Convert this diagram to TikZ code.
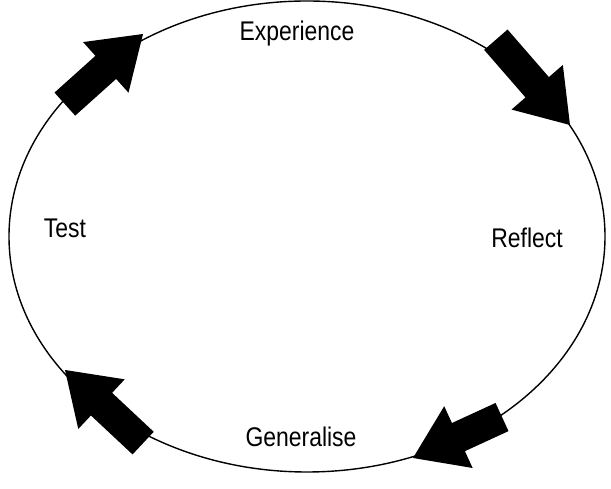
\documentclass[tikz,border=0pt]{standalone}
\usepackage{fontspec}
\setmainfont{Liberation Sans}
\begin{document}
\begin{tikzpicture}[x=1pt,y=1pt,
  lbl/.style={font=\fontsize{27}{29}\selectfont, xscale=0.85, inner sep=0pt, anchor=center},
  fatarrow/.pic={\fill[black] (0,0) -- (-50,34) -- (-50,15.5) -- (-#1,15.5) -- (-#1,-15.5) -- (-50,-15.5) -- (-50,-34) -- cycle;}]
\useasboundingbox (0,0) rectangle (611,489);
\draw[line width=1.4pt] (307,252.5) ellipse [x radius=298, y radius=235.5];
\node[lbl] (exp) at (297,455.5) {Experience};
\node[lbl] (ref) at (527,251.5) {Reflect};
\node[lbl] (gen) at (301,52.5) {Generalise};
\node[lbl] (tst) at (65,260.5) {Test};
\pic[rotate=41.9] at (143,455) {fatarrow=105};
\pic[rotate=-49] at (570,364) {fatarrow=113};
\pic[rotate=204.7] at (413,31) {fatarrow=98};
\pic[rotate=136.9] at (65,119) {fatarrow=107};
\end{tikzpicture}
\end{document}
